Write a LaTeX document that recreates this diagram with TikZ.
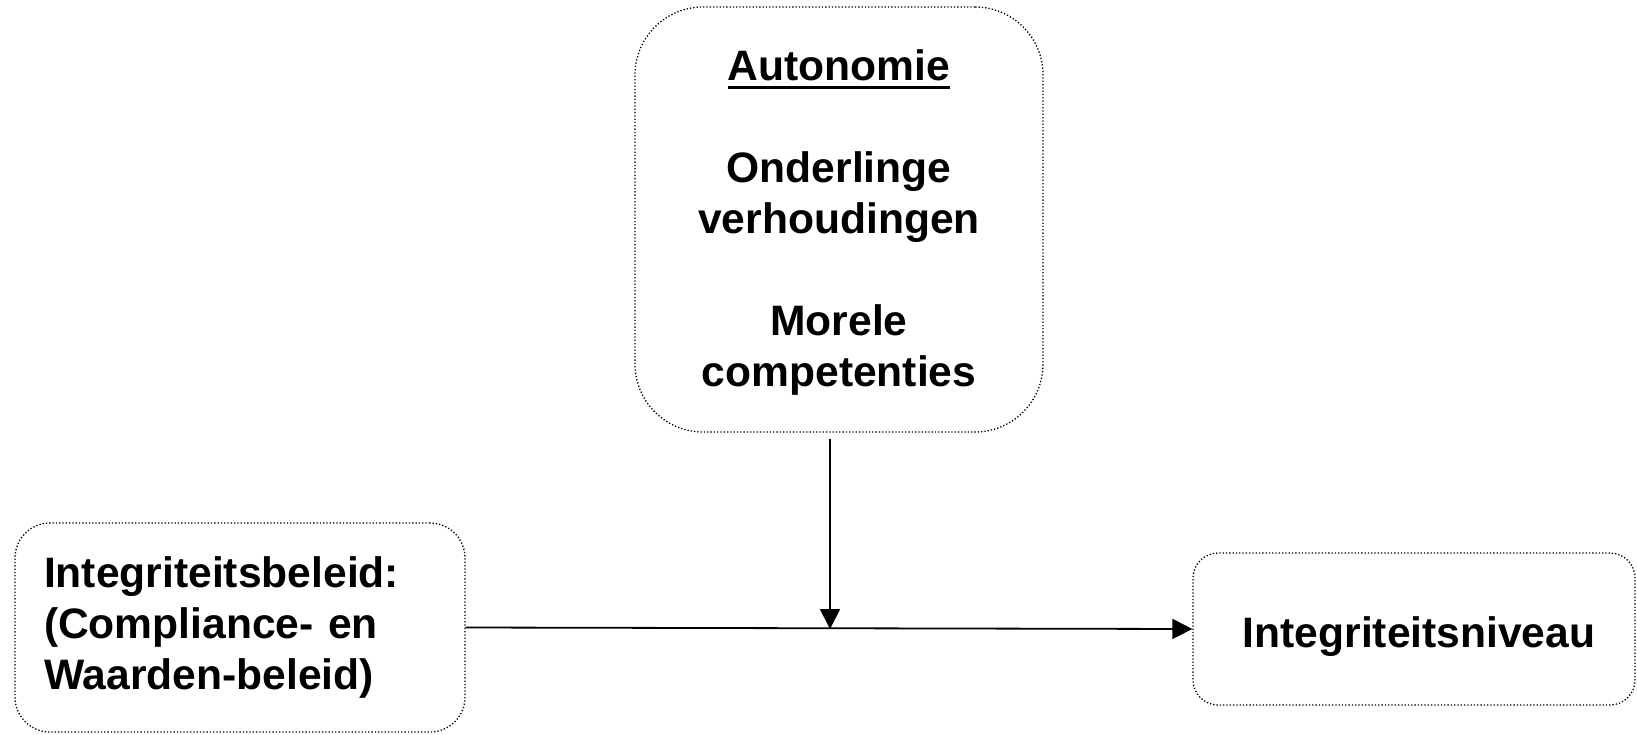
\documentclass[tikz,border=0pt]{standalone}
\usepackage{fontspec}
\setmainfont{Liberation Sans}
\usepackage{tikz}
\usetikzlibrary{arrows.meta}

\newcommand{\dikonder}[1]{\leavevmode\vtop{\hbox{#1}\kern5pt\hrule height 3.5pt}}

\begin{document}
\begin{tikzpicture}[x=1pt, y=-1pt,
    blok/.style={draw=black, line width=1.3pt, dash pattern=on 1.3pt off 2pt,
      inner sep=0pt, font=\bfseries\fontsize{42.6}{51}\selectfont},
    pijl/.style={line width=1.8pt, -{Triangle[length=20pt, width=20pt]}}]
    \useasboundingbox (0,0) rectangle (1637,735);
    % bovenste blok
    \node[blok, rounded corners=68pt, minimum width=408pt, minimum height=425pt,
      text width=380pt, align=center] (moderator) at (839,219.5)
      {\rule{0pt}{37pt}\dikonder{Autonomie}\\[51pt]Onderlinge\\verhoudingen\\[51pt]Morele\\competenties};
    % links en rechts
    \node[blok, rounded corners=35pt, minimum width=450pt, minimum height=209pt,
      text width=392pt, inner xsep=29pt, align=left] (beleid) at (240,627.5)
      {Integriteitsbeleid:\\(Compliance- en\\Waarden-beleid)};
    \node[blok, rounded corners=25pt, minimum width=442pt, minimum height=152pt,
      text height=38pt, text depth=2pt] (niveau) at (1414,629)
      {\hspace*{10pt}Integriteitsniveau};
    \draw[pijl] (beleid.east) -- (niveau.west);
    \coordinate (kruis) at (830,629);
    \draw[pijl] ([yshift=-6pt]moderator.south -| kruis) -- (kruis);
\end{tikzpicture}
\end{document}
